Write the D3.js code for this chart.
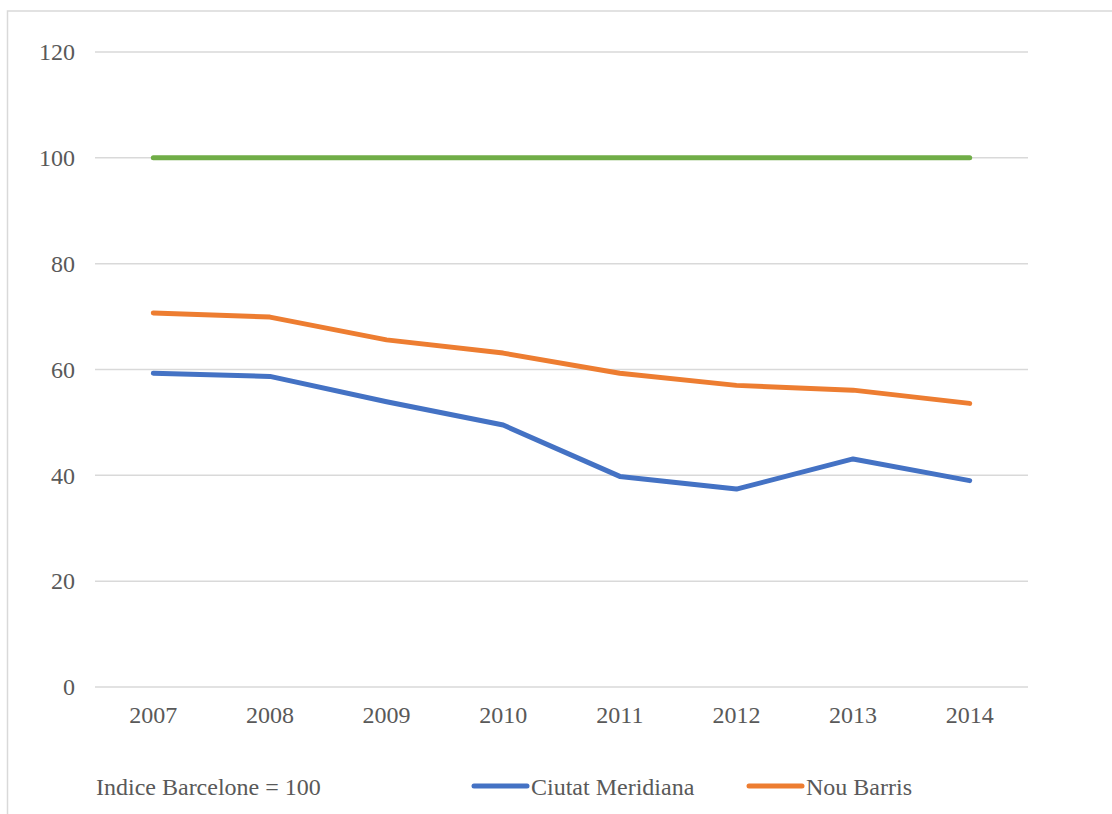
<!DOCTYPE html>
<html>
<head>
<meta charset="utf-8">
<script src="https://cdn.jsdelivr.net/npm/d3@7"></script>
<style>
  html, body { margin: 0; padding: 0; background: #fff; overflow: hidden; }
  svg { display: block; }
  text { font-family: 'Liberation Serif', 'Times New Roman', serif; fill: #595959; }
</style>
</head>
<body>
<svg id="chart" width="1112" height="814"></svg>
<script>
const years = ["2007", "2008", "2009", "2010", "2011", "2012", "2013", "2014"];
const ciutatMeridiana = [59.3, 58.7, 53.9, 49.5, 39.8, 37.4, 43.1, 39.0];
const nouBarris = [70.7, 69.9, 65.6, 63.1, 59.3, 57.0, 56.1, 53.6];
const barcelone = [100, 100, 100, 100, 100, 100, 100, 100];
const yTicks = [0, 20, 40, 60, 80, 100, 120];
const legendNote = "Indice Barcelone = 100";
const seriesNames = ["Ciutat Meridiana", "Nou Barris"];

const FONT = "'Liberation Serif', 'Times New Roman', serif";
const svg = d3.select("#chart");

// chart frame
svg.append("rect")
  .attr("x", 7.5).attr("y", 11)
  .attr("width", 1200).attr("height", 900)
  .attr("fill", "#fff").attr("stroke", "#d9d9d9").attr("stroke-width", 1.5);

const plot = { left: 95, right: 1028, top: 52, bottom: 687 };

const x = d3.scaleBand().domain(years).range([plot.left, plot.right]);
const y = d3.scaleLinear().domain([0, 120]).range([plot.bottom, plot.top]);

// gridlines
svg.append("g").selectAll("line").data(yTicks).join("line")
  .attr("x1", plot.left).attr("x2", plot.right)
  .attr("y1", d => y(d)).attr("y2", d => y(d))
  .attr("stroke", "#d9d9d9").attr("stroke-width", 1.5);

// y axis labels
const yAxis = d3.axisLeft(y).tickValues(yTicks).tickSize(0).tickPadding(20);
const gy = svg.append("g").attr("transform", `translate(${plot.left},0)`).call(yAxis)
  .attr("font-family", FONT).attr("font-size", 24);
gy.select(".domain").remove();
gy.selectAll("text").attr("fill", "#595959");

// x axis labels
const xAxis = d3.axisBottom(x).tickSize(0).tickPadding(19);
const gx = svg.append("g").attr("transform", `translate(0,${plot.bottom})`).call(xAxis)
  .attr("font-family", FONT).attr("font-size", 24);
gx.select(".domain").remove();
gx.selectAll("text").attr("fill", "#595959");

const cx = d => x(d) + x.bandwidth() / 2;
const line = d3.line().x((d, i) => cx(years[i])).y(d => y(d));

const series = [
  { values: barcelone, color: "#70AD47" },
  { values: nouBarris, color: "#ED7D31" },
  { values: ciutatMeridiana, color: "#4472C4" }
];
svg.append("g").selectAll("path").data(series).join("path")
  .attr("d", d => line(d.values))
  .attr("fill", "none")
  .attr("stroke", d => d.color)
  .attr("stroke-width", 5)
  .attr("stroke-linecap", "round")
  .attr("stroke-linejoin", "round");

// legend
const ly = 786;
svg.append("text").attr("x", 96).attr("y", ly + 9)
  .attr("font-family", FONT).attr("font-size", 24).text(legendNote);

const legendItems = [
  { name: seriesNames[0], color: "#4472C4", x0: 474 },
  { name: seriesNames[1], color: "#ED7D31", x0: 749 }
];
const lg = svg.append("g").selectAll("g").data(legendItems).join("g");
lg.append("line")
  .attr("x1", d => d.x0).attr("x2", d => d.x0 + 53)
  .attr("y1", ly).attr("y2", ly)
  .attr("stroke", d => d.color).attr("stroke-width", 5).attr("stroke-linecap", "round");
lg.append("text")
  .attr("x", d => d.x0 + 57).attr("y", ly + 9)
  .attr("font-family", FONT).attr("font-size", 24).text(d => d.name);
</script>
</body>
</html>
